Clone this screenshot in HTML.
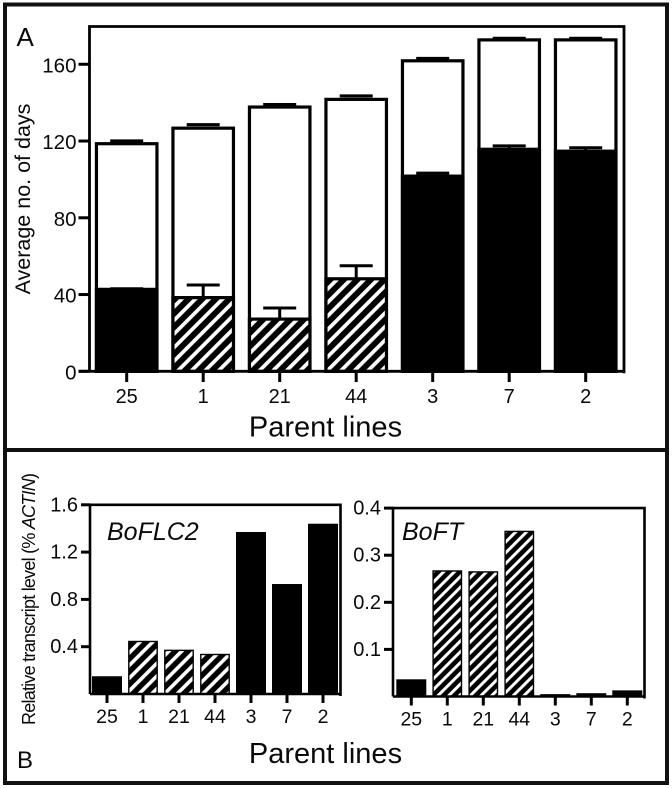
<!DOCTYPE html>
<html lang="en">
<head>
<meta charset="utf-8">
<title>Parent lines chart</title>
<style>
html,body{margin:0;padding:0;background:#fff;width:672px;height:788px;overflow:hidden}
svg{display:block}
text{font-family:"Liberation Sans",Arial,sans-serif;fill:#0a0a0a}
</style>
</head>
<body>
<svg id="fig" xmlns="http://www.w3.org/2000/svg" width="672" height="788" viewBox="0 0 672 788">
  <defs>
    <pattern id="hatchA" patternUnits="userSpaceOnUse" width="9.6" height="9.6" patternTransform="translate(2 1) rotate(-45)">
      <rect width="9.6" height="9.6" fill="#000"/><rect x="0" y="0" width="9.6" height="3.7" fill="#fff"/>
    </pattern>
    <pattern id="hatchB" patternUnits="userSpaceOnUse" width="9" height="9" patternTransform="translate(0 3) rotate(-45)">
      <rect width="9" height="9" fill="#000"/><rect x="0" y="0" width="9" height="3.6" fill="#fff"/>
    </pattern>
    <pattern id="hatchC" patternUnits="userSpaceOnUse" width="7.6" height="7.6" patternTransform="translate(1 2) rotate(-45)">
      <rect width="7.6" height="7.6" fill="#000"/><rect x="0" y="0" width="7.6" height="3" fill="#fff"/>
    </pattern>
  </defs>
  <rect width="672" height="788" fill="#fff"/>
  <rect x="5" y="4.5" width="662" height="778.5" fill="none" stroke="#111" stroke-width="4"/>
  <line x1="5" x2="667" y1="450" y2="450" stroke="#111" stroke-width="4"/>
  <text x="16.5" y="46" font-size="26">A</text>
  <text x="17" y="768" font-size="24">B</text>
  <text x="325.5" y="436.5" font-size="29" text-anchor="middle">Parent lines</text>
  <text x="325.5" y="763" font-size="29" text-anchor="middle">Parent lines</text>
  <text transform="translate(30 199) rotate(-90)" font-size="21.5" text-anchor="middle">Average no. of days</text>
  <text transform="translate(35 599) rotate(-90)" font-size="18" text-anchor="middle" textLength="252" lengthAdjust="spacing">Relative transcript level (% <tspan font-style="italic">ACTIN</tspan>)</text>
  <text x="107" y="540" font-size="25" font-style="italic">BoFLC2</text>
  <text x="402" y="540" font-size="25" font-style="italic">BoFT</text>
  <g id="plots"></g>
</svg>
<script>
// Shared categories
const parentLines = ['25', '1', '21', '44', '3', '7', '2'];
// Which bars are hatched rather than solid black
const hatchedFlags = [false, true, true, true, false, false, false];

// Panel A values (days)
const totalDays = [118.6, 126.7, 137.7, 141.7, 161.8, 172.7, 172.7];
const totalDaysErrorTop = [120, 128.5, 139, 143.5, 163, 173.5, 173.5];
const lowerDays = [42.7, 38.4, 27.2, 48.2, 101.7, 115.7, 114.7];
const lowerDaysErrorTop = [43, 45, 33, 55, 103.3, 117.5, 116.5];
const daysTicks = [0, 40, 80, 120, 160];

// Panel B values (relative transcript level)
const flc2Values = [0.15, 0.45, 0.375, 0.34, 1.37, 0.93, 1.44];
const flc2Ticks = ['0.4', '0.8', '1.2', '1.6'];
const ftValues = [0.0365, 0.268, 0.266, 0.352, 0.005, 0.007, 0.013];
const ftTicks = ['0.1', '0.2', '0.3', '0.4'];

const NS = 'http://www.w3.org/2000/svg';
const plots = document.getElementById('plots');
const INK = '#000';

function mk(tag, props) {
  const el = document.createElementNS(NS, tag);
  for (const k in props) el.setAttribute(k, props[k]);
  plots.appendChild(el);
  return el;
}

// ---------- Panel A ----------
const aY = v => 371.3 - v * 1.919;
const aX = i => 126.7 + i * 76.5;
const aW = 60.5;

parentLines.forEach((name, i) => {
  const x = aX(i);
  const outer = mk('rect', {x: x - aW / 2, y: aY(totalDays[i]), width: aW, height: aY(0) - aY(totalDays[i]), fill: '#fff', stroke: INK, 'stroke-width': 3.2});
  
  

  const cap = mk('line', {x1: x - 16.5, x2: x + 16.5, y1: aY(totalDaysErrorTop[i]), y2: aY(totalDaysErrorTop[i]), stroke: INK, 'stroke-width': 3.2});
  
  

  const stem = mk('line', {x1: x, x2: x, y1: aY(lowerDaysErrorTop[i]), y2: aY(lowerDays[i]), stroke: INK, 'stroke-width': 3});
  
  

  const lowerCap = mk('line', {x1: x - 16.5, x2: x + 16.5, y1: aY(lowerDaysErrorTop[i]), y2: aY(lowerDaysErrorTop[i]), stroke: INK, 'stroke-width': 3});
  
  

  const inner = mk('rect', {x: x - aW / 2, y: aY(lowerDays[i]), width: aW, height: aY(0) - aY(lowerDays[i]), fill: hatchedFlags[i] ? 'url(#hatchA)' : INK, stroke: INK, 'stroke-width': 3.2});
  
  

  const tick = mk('line', {x1: x, x2: x, y1: aY(0), y2: 382, stroke: INK, 'stroke-width': 3});
  
  

  const label = mk('text', {x: x, y: 403, 'font-size': 20, 'text-anchor': 'middle'});
  label.textContent = name;
  
  
});

daysTicks.forEach(v => {
  const tick = mk('line', {x1: 78.5, x2: 89.5, y1: aY(v), y2: aY(v), stroke: INK, 'stroke-width': 3});
  
  

  const label = mk('text', {x: 76.5, y: aY(v) + 8, 'font-size': 20.5, 'text-anchor': 'end'});
  label.textContent = v;
  
  
});

const aFrame = mk('path', {d: 'M89.5 ' + aY(0) + 'V26.5H624V' + (aY(0) + 2) + 'M78.5 ' + aY(0) + 'H625', fill: 'none', stroke: INK, 'stroke-width': 2.8});



// ---------- Panel B helpers ----------
function drawSmallPanel(cfg) {
  const y = v => cfg.y0 - v * cfg.yScale;
  const x = i => cfg.x0 + i * 36;
  const top = y(cfg.ticks.length * cfg.tickStep);

  cfg.values.forEach((v, i) => {
    const name = parentLines[i];
    const hatched = hatchedFlags[i];
    const bar = mk('rect', hatched
      ? {x: x(i) - 14.2, y: y(v) + 0.7, width: 28.4, height: cfg.y0 - y(v) - 0.7, fill: cfg.hatch, stroke: INK, 'stroke-width': 1.4}
      : {x: x(i) - 15, y: y(v), width: 30, height: cfg.y0 - y(v), fill: INK});
    
    

    const tick = mk('line', {x1: x(i), x2: x(i), y1: cfg.y0, y2: cfg.y0 + 9, stroke: INK, 'stroke-width': 3});
    
    

    const label = mk('text', {x: x(i), y: cfg.y0 + 29, 'font-size': 19.5, 'text-anchor': 'middle'});
    label.textContent = name;
    
    
  });

  cfg.ticks.forEach(t => {
    const ty = y(Number(t));
    const tick = mk('line', {x1: cfg.left - 9, x2: cfg.left, y1: ty, y2: ty, stroke: INK, 'stroke-width': 3});
    
    

    const label = mk('text', {x: cfg.left - 12, y: ty + 6.5, 'font-size': 20, 'text-anchor': 'end'});
    label.textContent = t;
    
    
  });

  const frame = mk('path', {d: 'M' + cfg.left + ' ' + cfg.y0 + 'V' + top + 'H' + cfg.right + 'V' + (cfg.y0 + 2) + 'M' + cfg.left + ' ' + cfg.y0 + 'H' + (cfg.right + 1), fill: 'none', stroke: INK, 'stroke-width': 2.6});
  
  
}

drawSmallPanel({id: 'boflc2', values: flc2Values, ticks: flc2Ticks, tickStep: 0.4, y0: 694, yScale: 118.25, x0: 107, left: 90, right: 340.5, hatch: 'url(#hatchB)'});
drawSmallPanel({id: 'boft', values: ftValues, ticks: ftTicks, tickStep: 0.1, y0: 696.5, yScale: 471, x0: 411.3, left: 393, right: 644.5, hatch: 'url(#hatchC)'});
</script>
</body>
</html>
